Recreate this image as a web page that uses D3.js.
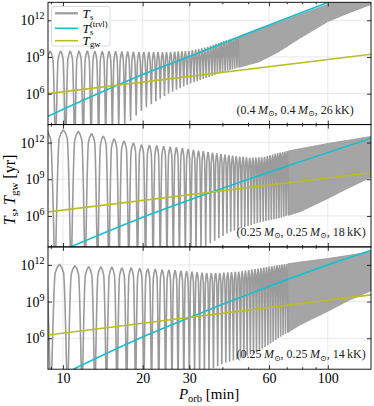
<!DOCTYPE html>
<html>
<head>
<meta charset="utf-8">
<script src="https://cdn.jsdelivr.net/npm/d3@7"></script>
<style>
body { margin: 0; background: #fff; }
svg { font-family: "Liberation Serif", "DejaVu Serif", serif; }
</style>
</head>
<body>
<svg id="vis" width="374" height="406"></svg>
<script>
var X_LEFT = 48, X_RIGHT = 371;
var PANEL_TOP = 2.3, PANEL_H = 122.3;
var P_MIN = 8.78, P_MAX = 145.6;
var LOG_T_MIN = 3.47, LOG_T_MAX = 13.47;
var ARC_DROP = 0.7;   // how far (in decades) an arc falls a quarter period off its peak

var C_GRAY = "#9b9b9b", C_CYAN = "#17becf", C_OLIVE = "#bcbd22";

// ---- axes ----
var xTicksMajor = [10, 20, 30, 60, 100];
var xTicksMinor = [9, 40, 50, 70, 80, 90];
var yTicks = [1e6, 1e9, 1e12];
var yTickExp = ["6", "9", "12"];

// ---- panel labels ----
var panelMass = ["0.4", "0.25", "0.25"];
var panelTemp = ["26", "18", "14"];

// ---- T_s: peak positions of the resolved oscillations [min] ----
var peaks1 = [8.95, 9.8, 10.65, 11.5, 12.35, 13.2, 14.07, 14.93, 15.8, 16.68, 17.55, 18.45, 19.35,
  20.2, 21.1, 22.0, 22.85, 23.75, 24.6, 25.5, 26.4, 27.25, 28.15, 29.0, 29.9, 30.8, 31.7, 32.55,
  33.45, 34.3, 35.2, 36.1, 37.0, 37.85, 38.75, 39.6, 40.5, 41.4, 42.3, 43.15, 44.05, 44.95, 45.85];
var peaks2 = [8.63, 10.03, 11.43, 12.83, 14.2, 15.6, 17.0, 18.45, 19.8, 21.2, 22.6, 24.0, 25.4,
  26.8, 28.25, 29.7, 31.1, 32.5, 33.9, 35.3, 36.7, 38.1, 39.5, 40.9, 42.3, 43.7, 45.1, 46.5, 47.9,
  49.3, 50.7, 52.1, 53.5, 54.9, 56.3, 57.7, 59.1, 60.5, 61.9, 63.3, 64.7, 66.1, 67.5, 68.9, 70.3];
var peaks3 = [8.3, 9.7, 11.1, 12.5, 13.9, 15.3, 16.7, 18.1, 19.5, 20.9, 22.3, 23.7, 25.1, 26.5,
  27.9, 29.3, 30.7, 32.1, 33.5, 34.9, 36.3, 37.7, 39.1, 40.5, 41.9, 43.3, 44.7, 46.1, 47.5, 48.9,
  50.3, 51.7, 53.1, 54.5, 55.9, 57.3, 58.7, 60.1, 61.5, 62.9, 64.3, 65.7, 67.1, 68.5, 69.9];

// ---- T_s envelopes: upper (peaks) and lower (troughs), log10 T [yr] ----
var env1P  = [8.7, 12, 17, 20, 25, 30, 35, 40, 47, 55, 65, 78, 90, 100, 120, 150];
var env1Hi = [9.5, 9.5, 9.45, 9.4, 9.4, 9.5, 9.8, 10.25, 10.75, 11.3, 11.8, 12.45, 12.95, 13.3, 14.0, 14.85];
var env1Lo = [0, 0.5, 3.3, 4.7, 6.0, 6.8, 7.3, 7.75, 8.2, 8.6, 9.4, 10.5, 11.3, 11.9, 12.6, 13.4];

var env2P  = [8.6, 10, 11.4, 12.8, 14.2, 15.6, 17, 18.45, 19.8, 26, 35, 42.3, 51, 57, 65, 78.6, 101.6, 120, 150];
var env2Hi = [13.0, 13.05, 12.93, 12.74, 12.55, 12.33, 12.14, 12.0, 11.84, 11.65, 11.24, 10.97, 10.75, 10.8, 11.15, 11.5, 11.95, 12.2, 12.55];
var env2Lo = [0, 0, 0, 0, 0, 0.2, 0.4, 0.6, 0.8, 1.5, 3.6, 4.65, 5.25, 5.55, 5.8, 6.35, 7.5, 8.3, 9.3];

var env3P  = [8.3, 9.7, 11.1, 12.5, 13.9, 15.3, 16.7, 18.1, 19.5, 25, 35, 40.3, 46.7, 55.5, 65, 78.6, 100, 120, 150];
var env3Hi = [12.1, 12.06, 11.94, 11.86, 11.86, 11.84, 11.78, 11.78, 11.73, 11.6, 11.33, 11.35, 11.46, 11.73, 11.97, 12.23, 12.52, 12.78, 13.12];
var env3Lo = [0, 0, 0, 0, 0, 0, 0.2, 0.4, 0.6, 1.2, 3.3, 3.93, 4.34, 5.0, 6.0, 7.1, 8.2, 9.1, 10.0];

// ---- T_s^(trvl), log10 T [yr] ----
var trvl1P = [8.78, 19.5, 30.2, 55.5, 100, 146];
var trvl1T = [4.15, 7.46, 9.05, 11.33, 13.46, 14.8];
var trvl2P = [10.63, 19.5, 30.2, 55.5, 68.9, 146];
var trvl2T = [3.45, 5.8, 7.32, 9.33, 10.02, 12.36];
var trvl3P = [10.94, 19.5, 29.7, 55.5, 100, 146];
var trvl3T = [3.47, 6.0, 7.64, 9.96, 12.0, 13.2];

// ---- T_gw, log10 T [yr] ----
var gwP  = [8.78, 146];
var gw1T = [6.0, 9.22];
var gw2T = [6.33, 9.54];
var gw3T = [6.27, 9.55];

var panels = [
	{ peaks: peaks1, envP: env1P, envHi: env1Hi, envLo: env1Lo, trvlP: trvl1P, trvlT: trvl1T, gwT: gw1T },
	{ peaks: peaks2, envP: env2P, envHi: env2Hi, envLo: env2Lo, trvlP: trvl2P, trvlT: trvl2T, gwT: gw2T },
	{ peaks: peaks3, envP: env3P, envHi: env3Hi, envLo: env3Lo, trvlP: trvl3P, trvlT: trvl3T, gwT: gw3T }
];

var svg = d3.select("#vis");
var x = d3.scaleLog().domain([P_MIN, P_MAX]).range([X_LEFT, X_RIGHT]);

function zip(a, b) { return a.map(function(v, i) { return [v, b[i]]; }); }

panels.forEach(function(pd, i)
{
	var top = PANEL_TOP + i * PANEL_H, bottom = top + PANEL_H;
	var y = d3.scaleLog()
		.domain([Math.pow(10, LOG_T_MIN), Math.pow(10, LOG_T_MAX)])
		.range([bottom, top]);
	var Y = function(lt) { return y(Math.pow(10, lt)); };

	var g = svg.append("g").attr("class", "panel" + i);

	svg.append("clipPath").attr("id", "clip" + i)
		.append("rect")
		.attr("x", X_LEFT).attr("y", top)
		.attr("width", X_RIGHT - X_LEFT).attr("height", PANEL_H);

	// grid
	g.selectAll("line.gx").data(xTicksMajor).enter().append("line")
		.attr("x1", function(d) { return x(d); }).attr("x2", function(d) { return x(d); })
		.attr("y1", top).attr("y2", bottom)
		.attr("stroke", "#e3e3e3").attr("stroke-width", 0.8);
	g.selectAll("line.gy").data(yTicks).enter().append("line")
		.attr("y1", function(d) { return y(d); }).attr("y2", function(d) { return y(d); })
		.attr("x1", X_LEFT).attr("x2", X_RIGHT)
		.attr("stroke", "#e3e3e3").attr("stroke-width", 0.8);

	var plot = g.append("g").attr("clip-path", "url(#clip" + i + ")");

	// envelope scales P -> log T
	var hi = d3.scaleLog().domain(pd.envP).range(pd.envHi).clamp(true);
	var lo = d3.scaleLog().domain(pd.envP).range(pd.envLo).clamp(true);

	// T_s: each resolved oscillation as two half arcs meeting at a pointed top
	var half = d3.line()
		.x(function(d) { return x(d[0]); })
		.y(function(d) { return Y(d[1]); })
		.curve(d3.curveMonotoneX);
	var pk = pd.peaks, n = pk.length, path = "";
	for (var k = 0; k < n; k++)
	{
		var p = pk[k];
		var cl = k > 0 ? (pk[k - 1] + p) / 2 : p - (pk[1] - pk[0]) / 2;
		var cr = k < n - 1 ? (p + pk[k + 1]) / 2 : p + (pk[n - 1] - pk[n - 2]) / 2;
		var h = hi(p);
		var dl = Math.min(ARC_DROP, (h - lo(cl)) * 0.3);
		var dr = Math.min(ARC_DROP, (h - lo(cr)) * 0.3);
		path += half([[cl, lo(cl)], [(cl + p) / 2, h - dl], [p, h]]);
		path += half([[p, h], [(p + cr) / 2, h - dr], [cr, lo(cr)]]);
	}
	plot.append("path").attr("d", path)
		.attr("fill", "none").attr("stroke", C_GRAY)
		.attr("stroke-width", 1.6).attr("stroke-linejoin", "round");

	// T_s: unresolved (dense) part as a band
	var bandStart = pk[n - 1] + (pk[n - 1] - pk[n - 2]) / 2;
	var bandPts = [bandStart].concat(pd.envP.filter(function(v) { return v > bandStart; }));
	plot.append("path")
		.datum(bandPts)
		.attr("d", d3.area()
			.x(function(d) { return x(d); })
			.y0(function(d) { return Y(lo(d)); })
			.y1(function(d) { return Y(hi(d)); }))
		.attr("fill", C_GRAY).attr("fill-opacity", 0.9)
		.attr("stroke", C_GRAY).attr("stroke-width", 0.8);

	var straight = d3.line()
		.x(function(d) { return x(d[0]); })
		.y(function(d) { return Y(d[1]); })
		.curve(d3.curveMonotoneX);

	plot.append("path").attr("d", straight(zip(pd.trvlP, pd.trvlT)))
		.attr("fill", "none").attr("stroke", C_CYAN).attr("stroke-width", 1.6);
	plot.append("path").attr("d", straight(zip(gwP, pd.gwT)))
		.attr("fill", "none").attr("stroke", C_OLIVE).attr("stroke-width", 1.6);

	// ticks, pointing inward on all four sides
	function tidy(sel) {
		sel.select(".domain").remove();
		sel.selectAll(".tick line").attr("stroke", "#000").attr("stroke-width", 0.8);
	}
	var fmt = function(d) { return i === 2 ? String(d) : ""; };
	g.append("g").attr("transform", "translate(0," + bottom + ")")
		.call(d3.axisBottom(x).tickValues(xTicksMajor).tickSizeInner(-4).tickSizeOuter(0)
			.tickPadding(3.5).tickFormat(fmt))
		.call(tidy)
		.selectAll("text").attr("font-family", "Liberation Serif, serif")
		.attr("font-size", 14).attr("fill", "#000");
	g.append("g").attr("transform", "translate(0," + bottom + ")")
		.call(d3.axisBottom(x).tickValues(xTicksMinor).tickSizeInner(-2).tickSizeOuter(0).tickFormat(""))
		.call(tidy);
	g.append("g").attr("transform", "translate(0," + top + ")")
		.call(d3.axisTop(x).tickValues(xTicksMajor).tickSizeInner(-4).tickSizeOuter(0).tickFormat(""))
		.call(tidy);
	g.append("g").attr("transform", "translate(0," + top + ")")
		.call(d3.axisTop(x).tickValues(xTicksMinor).tickSizeInner(-2).tickSizeOuter(0).tickFormat(""))
		.call(tidy);
	g.append("g").attr("transform", "translate(" + X_LEFT + ",0)")
		.call(d3.axisLeft(y).tickValues(yTicks).tickSizeInner(-4).tickSizeOuter(0).tickFormat(""))
		.call(tidy);
	g.append("g").attr("transform", "translate(" + X_RIGHT + ",0)")
		.call(d3.axisRight(y).tickValues(yTicks).tickSizeInner(-4).tickSizeOuter(0).tickFormat(""))
		.call(tidy);

	// y tick labels 10^n
	yTicks.forEach(function(t, j) {
		var txt = g.append("text")
			.attr("x", X_LEFT - 3.5).attr("y", y(t) + 5)
			.attr("text-anchor", "end").attr("font-size", 14);
		txt.append("tspan").text("10");
		txt.append("tspan").attr("dy", -6).attr("font-size", 10).text(yTickExp[j]);
	});

	// frame
	g.append("rect")
		.attr("x", X_LEFT).attr("y", top)
		.attr("width", X_RIGHT - X_LEFT).attr("height", PANEL_H)
		.attr("fill", "none").attr("stroke", "#000").attr("stroke-width", 0.9);

	// parameter label
	var lab = g.append("text")
		.attr("x", 236.5).attr("y", bottom - 11)
		.attr("font-size", 12).attr("fill", "#222");
	lab.append("tspan").text("(" + panelMass[i] + "\u2009");
	lab.append("tspan").attr("font-style", "italic").text("M");
	lab.append("tspan").attr("font-size", 8).attr("dy", 2.5).text("\u2299");
	lab.append("tspan").attr("dy", -2.5).text(", " + panelMass[i] + "\u2009");
	lab.append("tspan").attr("font-style", "italic").text("M");
	lab.append("tspan").attr("font-size", 8).attr("dy", 2.5).text("\u2299");
	lab.append("tspan").attr("dy", -2.5).text(", " + panelTemp[i] + "\u2009kK)");
});

// legend (top panel)
var leg = svg.append("g").attr("class", "legend");
leg.append("rect")
	.attr("x", 51.5).attr("y", 6.5).attr("width", 58.5).attr("height", 39.5)
	.attr("rx", 2.5).attr("fill", "#fff").attr("fill-opacity", 0.85)
	.attr("stroke", "#d0d0d0").attr("stroke-width", 0.8);
var legRows = [
	{ color: C_GRAY, w: 2.2, y: 13.3 },
	{ color: C_CYAN, w: 1.6, y: 28.3 },
	{ color: C_OLIVE, w: 1.6, y: 40.7 }
];
legRows.forEach(function(r) {
	leg.append("line").attr("x1", 55).attr("x2", 78).attr("y1", r.y).attr("y2", r.y)
		.attr("stroke", r.color).attr("stroke-width", r.w);
});
function legText(row, sub, sup) {
	var t = leg.append("text").attr("x", 82.5).attr("y", legRows[row].y + 4.3).attr("font-size", 13);
	t.append("tspan").attr("font-style", "italic").text("T");
	t.append("tspan").attr("x", 90).attr("dy", 2.3).attr("font-size", 8.5).text(sub);
	if (sup) t.append("tspan").attr("x", 90).attr("dy", -8.3).attr("font-size", 8.5).text(sup);
}
legText(0, "s");
legText(1, "s", "(trvl)");
legText(2, "gw");

// axis titles
var xl = svg.append("text").attr("x", 209).attr("y", 398.5)
	.attr("text-anchor", "middle").attr("font-size", 15);
xl.append("tspan").attr("font-style", "italic").text("P");
xl.append("tspan").attr("font-size", 10.5).attr("dy", 3).text("orb");
xl.append("tspan").attr("dy", -3).text(" [min]");

var yl = svg.append("text")
	.attr("transform", "translate(15,190) rotate(-90)")
	.attr("text-anchor", "middle").attr("font-size", 16);
yl.append("tspan").attr("font-style", "italic").text("T");
yl.append("tspan").attr("font-size", 11).attr("dy", 3).text("s");
yl.append("tspan").attr("dy", -3).text(",\u2009");
yl.append("tspan").attr("font-style", "italic").text("T");
yl.append("tspan").attr("font-size", 11).attr("dy", 3).text("gw");
yl.append("tspan").attr("dy", -3).text(" [yr]");
</script>
</body>
</html>
